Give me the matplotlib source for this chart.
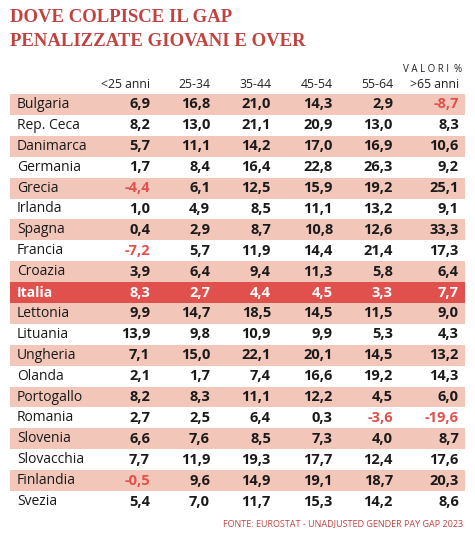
import matplotlib
matplotlib.use("Agg")
import matplotlib.pyplot as plt
from matplotlib.patches import Rectangle

countries = ["Bulgaria","Rep. Ceca","Danimarca","Germania","Grecia","Irlanda","Spagna","Francia","Croazia","Italia",
             "Lettonia","Lituania","Ungheria","Olanda","Portogallo","Romania","Slovenia","Slovacchia","Finlandia","Svezia"]
columns = ["<25 anni","25-34","35-44","45-54","55-64",">65 anni"]
values = [
 [6.9,16.8,21.0,14.3,2.9,-8.7],
 [8.2,13.0,21.1,20.9,13.0,8.3],
 [5.7,11.1,14.2,17.0,16.9,10.6],
 [1.7,8.4,16.4,22.8,26.3,9.2],
 [-4.4,6.1,12.5,15.9,19.2,25.1],
 [1.0,4.9,8.5,11.1,13.2,9.1],
 [0.4,2.9,8.7,10.8,12.6,33.3],
 [-7.2,5.7,11.9,14.4,21.4,17.3],
 [3.9,6.4,9.4,11.3,5.8,6.4],
 [8.3,2.7,4.4,4.5,3.3,7.7],
 [9.9,14.7,18.5,14.5,11.5,9.0],
 [13.9,9.8,10.9,9.9,5.3,4.3],
 [7.1,15.0,22.1,20.1,14.5,13.2],
 [2.1,1.7,7.4,16.6,19.2,14.3],
 [8.2,8.3,11.1,12.2,4.5,6.0],
 [2.7,2.5,6.4,0.3,-3.6,-19.6],
 [6.6,7.6,8.5,7.3,4.0,8.7],
 [7.7,11.9,19.3,17.7,12.4,17.6],
 [-0.5,9.6,14.9,19.1,18.7,20.3],
 [5.4,7.0,11.7,15.3,14.2,8.6],
]

W, H = 475, 533
fig = plt.figure(figsize=(W/100, H/100), dpi=100)
ax = fig.add_axes([0,0,1,1])
ax.set_xlim(0, W); ax.set_ylim(H, 0); ax.axis("off")

red = "#c0433f"
pink = "#f3c6ba"
fam = ["Open Sans", "DejaVu Sans"]
ax.text(10, 17, "DOVE COLPISCE IL GAP", family="Liberation Serif", weight="bold", fontsize=13.5, color=red, va="center")
ax.text(10, 42, "PENALIZZATE GIOVANI E OVER", family="Liberation Serif", weight="bold", fontsize=13.5, color=red, va="center")
ax.text(462, 70, "V A L O R I  %", family=fam, fontsize=7, color="#222", ha="right", va="center")
colx = [150, 210, 271, 333, 393, 459]
for x, c in zip(colx, columns):
    ax.text(x, 84, c, family=fam, fontsize=8.8, color="#222", ha="right", va="center")

top, rh = 94, 20.9
for i, (name, row) in enumerate(zip(countries, values)):
    y0 = top + i*rh
    yc = y0 + rh/2
    italia = name == "Italia"
    if italia:
        ax.add_patch(Rectangle((10, y0), 455, rh, color="#e0504c", lw=0))
    elif i % 2 == 0:
        ax.add_patch(Rectangle((10, y0), 455, rh, color=pink, lw=0))
    tc = "white" if italia else "#1a1a1a"
    ax.text(17, yc, name, family=fam, fontsize=10, color=tc, va="center", weight="bold" if italia else "normal")
    for x, v in zip(colx, row):
        s = f"{v:.1f}".replace(".", ",")
        col = tc if (italia or v >= 0) else "#e0504c"
        ax.text(x, yc, s, family=fam, fontsize=10.5, weight="bold", color=col, ha="right", va="center")

ax.text(463, 524, "FONTE: EUROSTAT - UNADJUSTED GENDER PAY GAP 2023", family=fam, fontsize=6.5, color=red, ha="right", va="center")
fig.savefig("out.png", dpi=100)
